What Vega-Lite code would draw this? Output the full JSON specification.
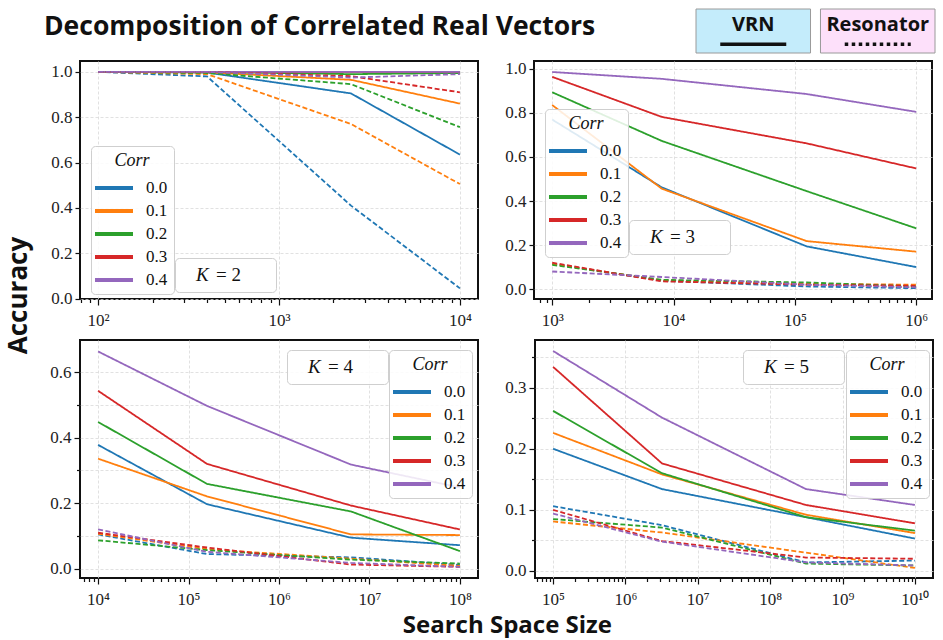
{
  "$schema": "https://vega.github.io/schema/vega-lite/v6.json",
  "padding": {"left": 5, "top": 8, "right": 0, "bottom": 0},
  "background": "white",
  "datasets": {
    "k2": [
      {"x": 100, "y": 1.0, "corr": "0.0", "method": "VRN"}, {"x": 400, "y": 0.997, "corr": "0.0", "method": "VRN"}, {"x": 2500, "y": 0.905, "corr": "0.0", "method": "VRN"}, {"x": 10000, "y": 0.635, "corr": "0.0", "method": "VRN"},
      {"x": 100, "y": 1.0, "corr": "0.1", "method": "VRN"}, {"x": 400, "y": 0.998, "corr": "0.1", "method": "VRN"}, {"x": 2500, "y": 0.965, "corr": "0.1", "method": "VRN"}, {"x": 10000, "y": 0.86, "corr": "0.1", "method": "VRN"},
      {"x": 100, "y": 1.0, "corr": "0.2", "method": "VRN"}, {"x": 400, "y": 1.0, "corr": "0.2", "method": "VRN"}, {"x": 2500, "y": 0.99, "corr": "0.2", "method": "VRN"}, {"x": 10000, "y": 0.995, "corr": "0.2", "method": "VRN"},
      {"x": 100, "y": 1.0, "corr": "0.3", "method": "VRN"}, {"x": 400, "y": 1.0, "corr": "0.3", "method": "VRN"}, {"x": 2500, "y": 1.0, "corr": "0.3", "method": "VRN"}, {"x": 10000, "y": 1.0, "corr": "0.3", "method": "VRN"},
      {"x": 100, "y": 1.0, "corr": "0.4", "method": "VRN"}, {"x": 400, "y": 1.0, "corr": "0.4", "method": "VRN"}, {"x": 2500, "y": 1.0, "corr": "0.4", "method": "VRN"}, {"x": 10000, "y": 1.0, "corr": "0.4", "method": "VRN"},
      {"x": 100, "y": 1.0, "corr": "0.0", "method": "Resonator"}, {"x": 400, "y": 0.98, "corr": "0.0", "method": "Resonator"}, {"x": 2500, "y": 0.41, "corr": "0.0", "method": "Resonator"}, {"x": 10000, "y": 0.045, "corr": "0.0", "method": "Resonator"},
      {"x": 100, "y": 1.0, "corr": "0.1", "method": "Resonator"}, {"x": 400, "y": 0.99, "corr": "0.1", "method": "Resonator"}, {"x": 2500, "y": 0.77, "corr": "0.1", "method": "Resonator"}, {"x": 10000, "y": 0.505, "corr": "0.1", "method": "Resonator"},
      {"x": 100, "y": 1.0, "corr": "0.2", "method": "Resonator"}, {"x": 400, "y": 0.995, "corr": "0.2", "method": "Resonator"}, {"x": 2500, "y": 0.946, "corr": "0.2", "method": "Resonator"}, {"x": 10000, "y": 0.756, "corr": "0.2", "method": "Resonator"},
      {"x": 100, "y": 1.0, "corr": "0.3", "method": "Resonator"}, {"x": 400, "y": 1.0, "corr": "0.3", "method": "Resonator"}, {"x": 2500, "y": 0.981, "corr": "0.3", "method": "Resonator"}, {"x": 10000, "y": 0.91, "corr": "0.3", "method": "Resonator"},
      {"x": 100, "y": 1.0, "corr": "0.4", "method": "Resonator"}, {"x": 400, "y": 1.0, "corr": "0.4", "method": "Resonator"}, {"x": 2500, "y": 0.975, "corr": "0.4", "method": "Resonator"}, {"x": 10000, "y": 0.99, "corr": "0.4", "method": "Resonator"}
    ],
    "k3": [
      {"x": 1000, "y": 0.77, "corr": "0.0", "method": "VRN"}, {"x": 8000, "y": 0.462, "corr": "0.0", "method": "VRN"}, {"x": 125000, "y": 0.194, "corr": "0.0", "method": "VRN"}, {"x": 1000000, "y": 0.1, "corr": "0.0", "method": "VRN"},
      {"x": 1000, "y": 0.836, "corr": "0.1", "method": "VRN"}, {"x": 8000, "y": 0.456, "corr": "0.1", "method": "VRN"}, {"x": 125000, "y": 0.218, "corr": "0.1", "method": "VRN"}, {"x": 1000000, "y": 0.17, "corr": "0.1", "method": "VRN"},
      {"x": 1000, "y": 0.894, "corr": "0.2", "method": "VRN"}, {"x": 8000, "y": 0.673, "corr": "0.2", "method": "VRN"}, {"x": 125000, "y": 0.445, "corr": "0.2", "method": "VRN"}, {"x": 1000000, "y": 0.276, "corr": "0.2", "method": "VRN"},
      {"x": 1000, "y": 0.964, "corr": "0.3", "method": "VRN"}, {"x": 8000, "y": 0.782, "corr": "0.3", "method": "VRN"}, {"x": 125000, "y": 0.662, "corr": "0.3", "method": "VRN"}, {"x": 1000000, "y": 0.548, "corr": "0.3", "method": "VRN"},
      {"x": 1000, "y": 0.986, "corr": "0.4", "method": "VRN"}, {"x": 8000, "y": 0.955, "corr": "0.4", "method": "VRN"}, {"x": 125000, "y": 0.886, "corr": "0.4", "method": "VRN"}, {"x": 1000000, "y": 0.805, "corr": "0.4", "method": "VRN"},
      {"x": 1000, "y": 0.115, "corr": "0.0", "method": "Resonator"}, {"x": 8000, "y": 0.038, "corr": "0.0", "method": "Resonator"}, {"x": 125000, "y": 0.012, "corr": "0.0", "method": "Resonator"}, {"x": 1000000, "y": 0.004, "corr": "0.0", "method": "Resonator"},
      {"x": 1000, "y": 0.114, "corr": "0.1", "method": "Resonator"}, {"x": 8000, "y": 0.04, "corr": "0.1", "method": "Resonator"}, {"x": 125000, "y": 0.024, "corr": "0.1", "method": "Resonator"}, {"x": 1000000, "y": 0.02, "corr": "0.1", "method": "Resonator"},
      {"x": 1000, "y": 0.11, "corr": "0.2", "method": "Resonator"}, {"x": 8000, "y": 0.042, "corr": "0.2", "method": "Resonator"}, {"x": 125000, "y": 0.03, "corr": "0.2", "method": "Resonator"}, {"x": 1000000, "y": 0.012, "corr": "0.2", "method": "Resonator"},
      {"x": 1000, "y": 0.12, "corr": "0.3", "method": "Resonator"}, {"x": 8000, "y": 0.035, "corr": "0.3", "method": "Resonator"}, {"x": 125000, "y": 0.02, "corr": "0.3", "method": "Resonator"}, {"x": 1000000, "y": 0.015, "corr": "0.3", "method": "Resonator"},
      {"x": 1000, "y": 0.08, "corr": "0.4", "method": "Resonator"}, {"x": 8000, "y": 0.055, "corr": "0.4", "method": "Resonator"}, {"x": 125000, "y": 0.02, "corr": "0.4", "method": "Resonator"}, {"x": 1000000, "y": 0.008, "corr": "0.4", "method": "Resonator"}
    ],
    "k4": [
      {"x": 10000, "y": 0.378, "corr": "0.0", "method": "VRN"}, {"x": 160000, "y": 0.197, "corr": "0.0", "method": "VRN"}, {"x": 6250000, "y": 0.095, "corr": "0.0", "method": "VRN"}, {"x": 100000000, "y": 0.072, "corr": "0.0", "method": "VRN"},
      {"x": 10000, "y": 0.336, "corr": "0.1", "method": "VRN"}, {"x": 160000, "y": 0.221, "corr": "0.1", "method": "VRN"}, {"x": 6250000, "y": 0.105, "corr": "0.1", "method": "VRN"}, {"x": 100000000, "y": 0.103, "corr": "0.1", "method": "VRN"},
      {"x": 10000, "y": 0.448, "corr": "0.2", "method": "VRN"}, {"x": 160000, "y": 0.259, "corr": "0.2", "method": "VRN"}, {"x": 6250000, "y": 0.175, "corr": "0.2", "method": "VRN"}, {"x": 100000000, "y": 0.054, "corr": "0.2", "method": "VRN"},
      {"x": 10000, "y": 0.543, "corr": "0.3", "method": "VRN"}, {"x": 160000, "y": 0.32, "corr": "0.3", "method": "VRN"}, {"x": 6250000, "y": 0.193, "corr": "0.3", "method": "VRN"}, {"x": 100000000, "y": 0.12, "corr": "0.3", "method": "VRN"},
      {"x": 10000, "y": 0.663, "corr": "0.4", "method": "VRN"}, {"x": 160000, "y": 0.497, "corr": "0.4", "method": "VRN"}, {"x": 6250000, "y": 0.318, "corr": "0.4", "method": "VRN"}, {"x": 100000000, "y": 0.248, "corr": "0.4", "method": "VRN"},
      {"x": 10000, "y": 0.105, "corr": "0.0", "method": "Resonator"}, {"x": 160000, "y": 0.045, "corr": "0.0", "method": "Resonator"}, {"x": 6250000, "y": 0.035, "corr": "0.0", "method": "Resonator"}, {"x": 100000000, "y": 0.012, "corr": "0.0", "method": "Resonator"},
      {"x": 10000, "y": 0.107, "corr": "0.1", "method": "Resonator"}, {"x": 160000, "y": 0.06, "corr": "0.1", "method": "Resonator"}, {"x": 6250000, "y": 0.031, "corr": "0.1", "method": "Resonator"}, {"x": 100000000, "y": 0.009, "corr": "0.1", "method": "Resonator"},
      {"x": 10000, "y": 0.087, "corr": "0.2", "method": "Resonator"}, {"x": 160000, "y": 0.057, "corr": "0.2", "method": "Resonator"}, {"x": 6250000, "y": 0.028, "corr": "0.2", "method": "Resonator"}, {"x": 100000000, "y": 0.016, "corr": "0.2", "method": "Resonator"},
      {"x": 10000, "y": 0.11, "corr": "0.3", "method": "Resonator"}, {"x": 160000, "y": 0.065, "corr": "0.3", "method": "Resonator"}, {"x": 6250000, "y": 0.013, "corr": "0.3", "method": "Resonator"}, {"x": 100000000, "y": 0.006, "corr": "0.3", "method": "Resonator"},
      {"x": 10000, "y": 0.12, "corr": "0.4", "method": "Resonator"}, {"x": 160000, "y": 0.052, "corr": "0.4", "method": "Resonator"}, {"x": 6250000, "y": 0.018, "corr": "0.4", "method": "Resonator"}, {"x": 100000000, "y": 0.006, "corr": "0.4", "method": "Resonator"}
    ],
    "k5": [
      {"x": 100000, "y": 0.2, "corr": "0.0", "method": "VRN"}, {"x": 3200000, "y": 0.134, "corr": "0.0", "method": "VRN"}, {"x": 312500000, "y": 0.088, "corr": "0.0", "method": "VRN"}, {"x": 10000000000, "y": 0.053, "corr": "0.0", "method": "VRN"},
      {"x": 100000, "y": 0.226, "corr": "0.1", "method": "VRN"}, {"x": 3200000, "y": 0.158, "corr": "0.1", "method": "VRN"}, {"x": 312500000, "y": 0.092, "corr": "0.1", "method": "VRN"}, {"x": 10000000000, "y": 0.062, "corr": "0.1", "method": "VRN"},
      {"x": 100000, "y": 0.262, "corr": "0.2", "method": "VRN"}, {"x": 3200000, "y": 0.16, "corr": "0.2", "method": "VRN"}, {"x": 312500000, "y": 0.088, "corr": "0.2", "method": "VRN"}, {"x": 10000000000, "y": 0.066, "corr": "0.2", "method": "VRN"},
      {"x": 100000, "y": 0.334, "corr": "0.3", "method": "VRN"}, {"x": 3200000, "y": 0.176, "corr": "0.3", "method": "VRN"}, {"x": 312500000, "y": 0.108, "corr": "0.3", "method": "VRN"}, {"x": 10000000000, "y": 0.078, "corr": "0.3", "method": "VRN"},
      {"x": 100000, "y": 0.36, "corr": "0.4", "method": "VRN"}, {"x": 3200000, "y": 0.251, "corr": "0.4", "method": "VRN"}, {"x": 312500000, "y": 0.134, "corr": "0.4", "method": "VRN"}, {"x": 10000000000, "y": 0.108, "corr": "0.4", "method": "VRN"},
      {"x": 100000, "y": 0.106, "corr": "0.0", "method": "Resonator"}, {"x": 3200000, "y": 0.075, "corr": "0.0", "method": "Resonator"}, {"x": 312500000, "y": 0.014, "corr": "0.0", "method": "Resonator"}, {"x": 10000000000, "y": 0.017, "corr": "0.0", "method": "Resonator"},
      {"x": 100000, "y": 0.081, "corr": "0.1", "method": "Resonator"}, {"x": 3200000, "y": 0.063, "corr": "0.1", "method": "Resonator"}, {"x": 312500000, "y": 0.03, "corr": "0.1", "method": "Resonator"}, {"x": 10000000000, "y": 0.005, "corr": "0.1", "method": "Resonator"},
      {"x": 100000, "y": 0.085, "corr": "0.2", "method": "Resonator"}, {"x": 3200000, "y": 0.071, "corr": "0.2", "method": "Resonator"}, {"x": 312500000, "y": 0.012, "corr": "0.2", "method": "Resonator"}, {"x": 10000000000, "y": 0.009, "corr": "0.2", "method": "Resonator"},
      {"x": 100000, "y": 0.1, "corr": "0.3", "method": "Resonator"}, {"x": 3200000, "y": 0.049, "corr": "0.3", "method": "Resonator"}, {"x": 312500000, "y": 0.022, "corr": "0.3", "method": "Resonator"}, {"x": 10000000000, "y": 0.02, "corr": "0.3", "method": "Resonator"},
      {"x": 100000, "y": 0.094, "corr": "0.4", "method": "Resonator"}, {"x": 3200000, "y": 0.048, "corr": "0.4", "method": "Resonator"}, {"x": 312500000, "y": 0.014, "corr": "0.4", "method": "Resonator"}, {"x": 10000000000, "y": 0.009, "corr": "0.4", "method": "Resonator"}
    ]
  },
  "vconcat": [
    {
      "width": 855, "height": 44,
      "view": {"stroke": null},
      "layer": [
        {"data": {"values": [{"method": "VRN"}, {"method": "Resonator"}]}, "mark": {"type": "rect", "stroke": "#9a9a9a", "strokeWidth": 1}, "encoding": {"x": {"field": "method", "type": "nominal", "scale": {"type": "band", "domain": ["VRN", "Resonator"], "range": [616, 855], "paddingInner": 0.08, "paddingOuter": 0}, "axis": null}, "fill": {"field": "method", "type": "nominal", "scale": {"domain": ["VRN", "Resonator"], "range": ["#c4ecfb", "#fde0fa"]}, "legend": null}}},
        {"data": {"values": [{"method": "VRN"}, {"method": "Resonator"}]}, "mark": {"type": "text", "font": "Open Sans", "fontWeight": "bold", "fontSize": 20, "baseline": "middle", "color": "#111"}, "encoding": {"x": {"field": "method", "type": "nominal", "scale": {"type": "band", "domain": ["VRN", "Resonator"], "range": [616, 855], "paddingInner": 0.08, "paddingOuter": 0}, "axis": null}, "text": {"field": "method"}, "y": {"datum": 0.64, "type": "quantitative", "scale": {"domain": [0, 1]}, "axis": null}}},
        {"data": {"values": [{"method": "VRN"}, {"method": "Resonator"}]}, "mark": {"type": "rule", "strokeWidth": 3.5, "color": "#111", "xOffset": -33, "x2Offset": 33}, "encoding": {"x": {"field": "method", "type": "nominal", "scale": {"type": "band", "domain": ["VRN", "Resonator"], "range": [616, 855], "paddingInner": 0.08, "paddingOuter": 0}, "axis": null}, "x2": {"field": "method"}, "y": {"datum": 0.2, "type": "quantitative", "scale": {"domain": [0, 1]}, "axis": null}, "strokeDash": {"field": "method", "type": "nominal", "scale": {"domain": ["VRN", "Resonator"], "range": [[1, 0], [3.5, 3.5]]}, "legend": null}}},
        {"data": {"values": [{"label": "Decomposition of Correlated Real Vectors"}]}, "mark": {"type": "text", "font": "Open Sans", "fontWeight": "bold", "fontSize": 26.5, "baseline": "middle", "align": "left", "color": "#111", "dx": -36}, "encoding": {"x": {"datum": 0, "type": "quantitative", "scale": {"domain": [0, 1]}, "axis": null}, "text": {"field": "label"}, "y": {"datum": 0.6, "type": "quantitative", "scale": {"domain": [0, 1]}, "axis": null}}}
      ],
      "resolve": {"scale": {"x": "independent"}}
    },
    {
      "title": {"text": "Accuracy", "orient": "left", "font": "Open Sans", "fontSize": 26, "fontWeight": "bold", "color": "#111", "offset": 17, "anchor": "middle", "dx": 53},
      "vconcat": [
        {
          "title": {"text": "Search Space Size", "orient": "bottom", "font": "Open Sans", "fontSize": 24, "fontWeight": "bold", "color": "#111", "offset": 6, "anchor": "middle", "dx": 16},
          "spacing": 10,
          "vconcat": [
            {
              "spacing": 24,
              "hconcat": [
                {
                  "width": 398, "height": 238,
                  "data": {"name": "k2"},
                  "encoding": {
                    "x": {"field": "x", "type": "quantitative", "scale": {"type": "log", "domain": [79.43, 12589], "nice": false}, "axis": {"title": null, "values": [80, 90, 100, 200, 300, 400, 500, 600, 700, 800, 900, 1000, 2000, 3000, 4000, 5000, 6000, 7000, 8000, 9000, 10000], "labelExpr": "abs(log(datum.value)/LN10 - round(log(datum.value)/LN10)) < 0.01 ? '10' + ['⁰','¹','²','³','⁴','⁵','⁶','⁷','⁸','⁹','¹⁰'][round(log(datum.value)/LN10)] : ''", "tickSize": {"condition": {"test": "abs(log(datum.value)/LN10 - round(log(datum.value)/LN10)) < 0.01", "value": 6}, "value": 3.5}, "gridOpacity": {"condition": {"test": "abs(log(datum.value)/LN10 - round(log(datum.value)/LN10)) < 0.01", "value": 1}, "value": 0}}},
                    "y": {"field": "y", "type": "quantitative", "scale": {"domain": [-0.002, 1.048], "nice": false, "zero": false}, "axis": {"title": null, "values": [0, 0.2, 0.4, 0.6, 0.8, 1.0], "format": ".1f"}}
                  },
                  "layer": [
                    {"mark": {"type": "line", "strokeWidth": 1.8}, "encoding": {"color": {"field": "corr", "type": "nominal", "scale": {"domain": ["0.0", "0.1", "0.2", "0.3", "0.4"], "range": ["#1f77b4", "#ff7f0e", "#2ca02c", "#d62728", "#9467bd"]}, "legend": {"title": "Corr", "titleAnchor": "middle", "symbolType": "M-1.4,0H2.4", "symbolSize": 400, "symbolStrokeWidth": 4, "labelOffset": 25, "rowPadding": 3, "titlePadding": 6, "legendX": 11, "legendY": 85}}, "strokeDash": {"field": "method", "type": "nominal", "scale": {"domain": ["VRN", "Resonator"], "range": [[1, 0], [5, 2.5]]}, "legend": null}}},
                    {"mark": {"type": "point", "opacity": 0}, "encoding": {"shape": {"datum": "= 2", "legend": {"title": "⠀K", "titleOrient": "left", "titleFontSize": 19, "titlePadding": 5, "labelFontSize": 19, "symbolType": "stroke", "symbolSize": 2809, "symbolStrokeWidth": 0, "symbolOpacity": 0, "clipHeight": 19, "labelOffset": -51, "padding": 7, "labelExpr": "datum.label + '⠀⠀'", "legendX": 95, "legendY": 197}}}}
                  ]
                },
                {
                  "width": 398, "height": 238,
                  "data": {"name": "k3"},
                  "encoding": {
                    "x": {"field": "x", "type": "quantitative", "scale": {"type": "log", "domain": [708, 1349000], "nice": false}, "axis": {"title": null, "values": [800, 900, 1000, 2000, 3000, 4000, 5000, 6000, 7000, 8000, 9000, 10000, 20000, 30000, 40000, 50000, 60000, 70000, 80000, 90000, 100000, 200000, 300000, 400000, 500000, 600000, 700000, 800000, 900000, 1000000], "labelExpr": "abs(log(datum.value)/LN10 - round(log(datum.value)/LN10)) < 0.01 ? '10' + ['⁰','¹','²','³','⁴','⁵','⁶','⁷','⁸','⁹','¹⁰'][round(log(datum.value)/LN10)] : ''", "tickSize": {"condition": {"test": "abs(log(datum.value)/LN10 - round(log(datum.value)/LN10)) < 0.01", "value": 6}, "value": 3.5}, "gridOpacity": {"condition": {"test": "abs(log(datum.value)/LN10 - round(log(datum.value)/LN10)) < 0.01", "value": 1}, "value": 0}}},
                    "y": {"field": "y", "type": "quantitative", "scale": {"domain": [-0.045, 1.036], "nice": false, "zero": false}, "axis": {"title": null, "values": [0, 0.2, 0.4, 0.6, 0.8, 1.0], "format": ".1f"}}
                  },
                  "layer": [
                    {"mark": {"type": "line", "strokeWidth": 1.8}, "encoding": {"color": {"field": "corr", "type": "nominal", "scale": {"domain": ["0.0", "0.1", "0.2", "0.3", "0.4"], "range": ["#1f77b4", "#ff7f0e", "#2ca02c", "#d62728", "#9467bd"]}, "legend": {"title": "Corr", "titleAnchor": "middle", "symbolType": "M-1.4,0H2.4", "symbolSize": 400, "symbolStrokeWidth": 4, "labelOffset": 25, "rowPadding": 3, "titlePadding": 6, "legendX": 11, "legendY": 48}}, "strokeDash": {"field": "method", "type": "nominal", "scale": {"domain": ["VRN", "Resonator"], "range": [[1, 0], [5, 2.5]]}, "legend": null}}},
                    {"mark": {"type": "point", "opacity": 0}, "encoding": {"shape": {"datum": "= 3", "legend": {"title": "⠀K", "titleOrient": "left", "titleFontSize": 19, "titlePadding": 5, "labelFontSize": 19, "symbolType": "stroke", "symbolSize": 2809, "symbolStrokeWidth": 0, "symbolOpacity": 0, "clipHeight": 19, "labelOffset": -51, "padding": 7, "labelExpr": "datum.label + '⠀⠀'", "legendX": 95, "legendY": 159}}}}
                  ]
                }
              ],
              "resolve": {"scale": {"x": "independent", "y": "independent", "color": "independent", "strokeDash": "independent", "shape": "independent"}, "legend": {"color": "independent", "shape": "independent", "strokeDash": "independent"}, "axis": {"x": "independent", "y": "independent"}}
            },
            {
              "spacing": 24,
              "hconcat": [
                {
                  "width": 398, "height": 238,
                  "data": {"name": "k4"},
                  "encoding": {
                    "x": {"field": "x", "type": "quantitative", "scale": {"type": "log", "domain": [6310, 158500000], "nice": false}, "axis": {"title": null, "values": [7000, 8000, 9000, 10000, 20000, 30000, 40000, 50000, 60000, 70000, 80000, 90000, 100000, 200000, 300000, 400000, 500000, 600000, 700000, 800000, 900000, 1000000, 2000000, 3000000, 4000000, 5000000, 6000000, 7000000, 8000000, 9000000, 10000000, 20000000, 30000000, 40000000, 50000000, 60000000, 70000000, 80000000, 90000000, 100000000], "labelExpr": "abs(log(datum.value)/LN10 - round(log(datum.value)/LN10)) < 0.01 ? '10' + ['⁰','¹','²','³','⁴','⁵','⁶','⁷','⁸','⁹','¹⁰'][round(log(datum.value)/LN10)] : ''", "tickSize": {"condition": {"test": "abs(log(datum.value)/LN10 - round(log(datum.value)/LN10)) < 0.01", "value": 6}, "value": 3.5}, "gridOpacity": {"condition": {"test": "abs(log(datum.value)/LN10 - round(log(datum.value)/LN10)) < 0.01", "value": 1}, "value": 0}}},
                    "y": {"field": "y", "type": "quantitative", "scale": {"domain": [-0.028, 0.698], "nice": false, "zero": false}, "axis": {"title": null, "values": [0, 0.1, 0.2, 0.3, 0.4, 0.5, 0.6], "labelExpr": "round(datum.value*10) % 2 == 0 ? format(datum.value, '.1f') : ''", "tickSize": {"condition": {"test": "round(datum.value*10) % 2 == 0", "value": 6}, "value": 3.5}}}
                  },
                  "layer": [
                    {"mark": {"type": "line", "strokeWidth": 1.8}, "encoding": {"color": {"field": "corr", "type": "nominal", "scale": {"domain": ["0.0", "0.1", "0.2", "0.3", "0.4"], "range": ["#1f77b4", "#ff7f0e", "#2ca02c", "#d62728", "#9467bd"]}, "legend": {"title": "Corr", "titleAnchor": "middle", "symbolType": "M-1.4,0H2.4", "symbolSize": 400, "symbolStrokeWidth": 4, "labelOffset": 25, "rowPadding": 3, "titlePadding": 6, "legendX": 309, "legendY": 10}}, "strokeDash": {"field": "method", "type": "nominal", "scale": {"domain": ["VRN", "Resonator"], "range": [[1, 0], [5, 2.5]]}, "legend": null}}},
                    {"mark": {"type": "point", "opacity": 0}, "encoding": {"shape": {"datum": "= 4", "legend": {"title": "⠀K", "titleOrient": "left", "titleFontSize": 19, "titlePadding": 5, "labelFontSize": 19, "symbolType": "stroke", "symbolSize": 2809, "symbolStrokeWidth": 0, "symbolOpacity": 0, "clipHeight": 19, "labelOffset": -51, "padding": 7, "labelExpr": "datum.label + '⠀⠀'", "legendX": 207, "legendY": 10}}}}
                  ]
                },
                {
                  "width": 398, "height": 238,
                  "data": {"name": "k5"},
                  "encoding": {
                    "x": {"field": "x", "type": "quantitative", "scale": {"type": "log", "domain": [56234, 17780000000], "nice": false}, "axis": {"title": null, "values": [60000, 70000, 80000, 90000, 100000, 200000, 300000, 400000, 500000, 600000, 700000, 800000, 900000, 1000000, 2000000, 3000000, 4000000, 5000000, 6000000, 7000000, 8000000, 9000000, 10000000, 20000000, 30000000, 40000000, 50000000, 60000000, 70000000, 80000000, 90000000, 100000000, 200000000, 300000000, 400000000, 500000000, 600000000, 700000000, 800000000, 900000000, 1000000000, 2000000000, 3000000000, 4000000000, 5000000000, 6000000000, 7000000000, 8000000000, 9000000000, 10000000000], "labelExpr": "abs(log(datum.value)/LN10 - round(log(datum.value)/LN10)) < 0.01 ? '10' + ['⁰','¹','²','³','⁴','⁵','⁶','⁷','⁸','⁹','¹⁰'][round(log(datum.value)/LN10)] : ''", "tickSize": {"condition": {"test": "abs(log(datum.value)/LN10 - round(log(datum.value)/LN10)) < 0.01", "value": 6}, "value": 3.5}, "gridOpacity": {"condition": {"test": "abs(log(datum.value)/LN10 - round(log(datum.value)/LN10)) < 0.01", "value": 1}, "value": 0}}},
                    "y": {"field": "y", "type": "quantitative", "scale": {"domain": [-0.0115, 0.378], "nice": false, "zero": false}, "axis": {"title": null, "values": [0, 0.05, 0.1, 0.15, 0.2, 0.25, 0.3, 0.35], "labelExpr": "abs(datum.value*10 - round(datum.value*10)) < 0.001 ? format(datum.value, '.1f') : ''", "tickSize": {"condition": {"test": "abs(datum.value*10 - round(datum.value*10)) < 0.001", "value": 6}, "value": 3.5}}}
                  },
                  "layer": [
                    {"mark": {"type": "line", "strokeWidth": 1.8}, "encoding": {"color": {"field": "corr", "type": "nominal", "scale": {"domain": ["0.0", "0.1", "0.2", "0.3", "0.4"], "range": ["#1f77b4", "#ff7f0e", "#2ca02c", "#d62728", "#9467bd"]}, "legend": {"title": "Corr", "titleAnchor": "middle", "symbolType": "M-1.4,0H2.4", "symbolSize": 400, "symbolStrokeWidth": 4, "labelOffset": 25, "rowPadding": 3, "titlePadding": 6, "legendX": 311, "legendY": 10}}, "strokeDash": {"field": "method", "type": "nominal", "scale": {"domain": ["VRN", "Resonator"], "range": [[1, 0], [5, 2.5]]}, "legend": null}}},
                    {"mark": {"type": "point", "opacity": 0}, "encoding": {"shape": {"datum": "= 5", "legend": {"title": "⠀K", "titleOrient": "left", "titleFontSize": 19, "titlePadding": 5, "labelFontSize": 19, "symbolType": "stroke", "symbolSize": 2809, "symbolStrokeWidth": 0, "symbolOpacity": 0, "clipHeight": 19, "labelOffset": -51, "padding": 7, "labelExpr": "datum.label + '⠀⠀'", "legendX": 208, "legendY": 10}}}}
                  ]
                }
              ],
              "resolve": {"scale": {"x": "independent", "y": "independent", "color": "independent", "strokeDash": "independent", "shape": "independent"}, "legend": {"color": "independent", "shape": "independent", "strokeDash": "independent"}, "axis": {"x": "independent", "y": "independent"}}
            }
          ],
          "resolve": {"scale": {"x": "independent", "y": "independent", "color": "independent", "strokeDash": "independent", "shape": "independent"}, "legend": {"color": "independent", "shape": "independent", "strokeDash": "independent"}, "axis": {"x": "independent", "y": "independent"}}
        }
      ],
      "resolve": {"scale": {"x": "independent", "y": "independent", "color": "independent", "strokeDash": "independent", "shape": "independent"}, "legend": {"color": "independent", "shape": "independent", "strokeDash": "independent"}, "axis": {"x": "independent", "y": "independent"}}
    }
  ],
  "spacing": 4,
  "resolve": {"scale": {"x": "independent", "y": "independent", "color": "independent", "strokeDash": "independent", "shape": "independent", "fill": "independent"}, "legend": {"color": "independent", "shape": "independent", "strokeDash": "independent", "fill": "independent"}, "axis": {"x": "independent", "y": "independent"}},
  "config": {
    "view": {"stroke": "#111", "strokeWidth": 2},
    "axis": {"domain": false, "labelFont": "Liberation Serif", "labelFontSize": 17, "labelColor": "#222", "tickColor": "#111", "tickWidth": 1.2, "gridColor": "#d9d9d9", "gridDash": [3, 2], "gridWidth": 0.8, "labelPadding": 3, "labelOverlap": false, "labelFlush": false, "labelBound": false},
    "axisX": {"labelPadding": 7},
    "legend": {"orient": "none", "titleFont": "Liberation Serif", "titleFontStyle": "italic", "titleFontWeight": "normal", "titleFontSize": 18, "titleColor": "#111", "labelFont": "Liberation Serif", "labelFontSize": 17, "labelColor": "#111", "fillColor": "rgba(255,255,255,0.85)", "strokeColor": "#cfcfcf", "cornerRadius": 4, "padding": 6}
  }
}
